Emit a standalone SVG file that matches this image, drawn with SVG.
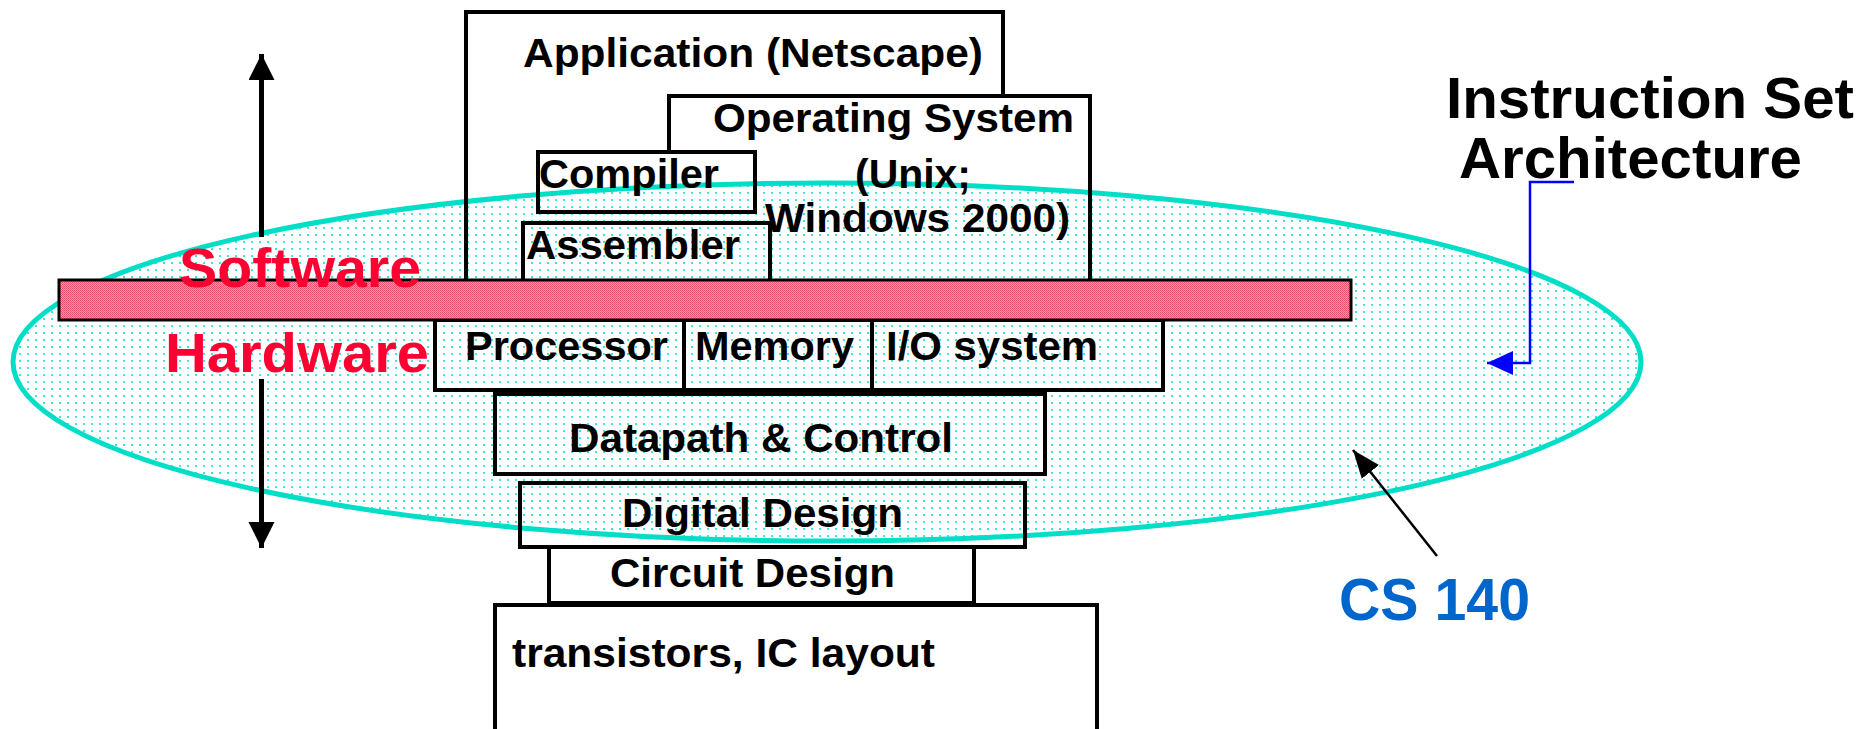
<svg xmlns="http://www.w3.org/2000/svg" width="1875" height="729" viewBox="0 0 1875 729">
  <defs>
    <pattern id="dots" x="0" y="0" width="8" height="7" patternUnits="userSpaceOnUse">
      <rect x="3" y="3" width="2" height="2" fill="#3FE3D8"/>
    </pattern>
    <pattern id="check" x="0" y="0" width="2" height="2" patternUnits="userSpaceOnUse">
      <rect width="2" height="2" fill="#FA98A8"/>
      <rect width="1" height="1" fill="#EC4A68"/>
      <rect x="1" y="1" width="1" height="1" fill="#EE5874"/>
    </pattern>
    <marker id="blk" markerUnits="userSpaceOnUse" markerWidth="30" markerHeight="30" refX="26" refY="13" orient="auto">
      <path d="M0,0 L26,13 L0,26 Z" fill="#000"/>
    </marker>
    <marker id="blk2" markerUnits="userSpaceOnUse" markerWidth="30" markerHeight="30" refX="28" refY="14" orient="auto">
      <path d="M0,3 L28,14 L0,25 Z" fill="#000"/>
    </marker>
    <marker id="blu" markerUnits="userSpaceOnUse" markerWidth="30" markerHeight="30" refX="26" refY="12" orient="auto">
      <path d="M0,0 L26,12 L0,24 Z" fill="#0000FF"/>
    </marker>
  </defs>
  <style>
    .box { fill: none; stroke: #000; stroke-width: 4; stroke-linejoin: miter; }
    .t { font-family: "Liberation Sans", Arial, sans-serif; font-weight: bold; font-size: 41px; fill: #000; }
    .big { font-size: 57px; }
    .red { fill: #FF0033; font-size: 56px; }
    .cs { fill: #0066CC; font-size: 60px; }
  </style>

  <g id="cs140-region">
    <ellipse cx="827" cy="362" rx="814" ry="179" fill="url(#dots)" stroke="#00DEC8" stroke-width="5"/>
  </g>

  <g id="application">
    <path class="box" d="M466,281 V12 H1003 V96"/>
    <text class="t" x="523" y="67" textLength="460" lengthAdjust="spacingAndGlyphs">Application (Netscape)</text>
  </g>
  <g id="operating-system">
    <path class="box" d="M669,152 V96 H1090 V281"/>
    <text class="t" x="713" y="132" textLength="361" lengthAdjust="spacingAndGlyphs">Operating System</text>
    <text class="t" x="855" y="188" textLength="116" lengthAdjust="spacingAndGlyphs">(Unix;</text>
    <text class="t" x="765" y="232" textLength="305" lengthAdjust="spacingAndGlyphs">Windows 2000)</text>
  </g>
  <g id="compiler">
    <rect class="box" x="538" y="152" width="217" height="60"/>
    <text class="t" x="539" y="188" textLength="180" lengthAdjust="spacingAndGlyphs">Compiler</text>
  </g>
  <g id="assembler">
    <path class="box" d="M523,281 V223 H770 V281"/>
    <text class="t" x="526" y="259" textLength="214" lengthAdjust="spacingAndGlyphs">Assembler</text>
  </g>

  <g id="processor">
    <rect class="box" x="435" y="320" width="249" height="70"/>
    <text class="t" x="465" y="360" textLength="203" lengthAdjust="spacingAndGlyphs">Processor</text>
  </g>
  <g id="memory">
    <rect class="box" x="684" y="320" width="188" height="70"/>
    <line class="box" x1="684" y1="388" x2="684" y2="396"/>
    <line class="box" x1="872" y1="388" x2="872" y2="396"/>
    <text class="t" x="695" y="360" textLength="159" lengthAdjust="spacingAndGlyphs">Memory</text>
  </g>
  <g id="io-system">
    <rect class="box" x="872" y="320" width="291" height="70"/>
    <text class="t" x="886" y="360" textLength="212" lengthAdjust="spacingAndGlyphs">I/O system</text>
  </g>
  <g id="datapath-control">
    <rect class="box" x="495" y="394" width="550" height="80"/>
    <text class="t" x="569" y="452" textLength="384" lengthAdjust="spacingAndGlyphs">Datapath &amp; Control</text>
  </g>
  <g id="digital-design">
    <rect class="box" x="520" y="483" width="505" height="64"/>
    <text class="t" x="622" y="527" textLength="281" lengthAdjust="spacingAndGlyphs">Digital Design</text>
  </g>
  <g id="circuit-design">
    <rect class="box" x="549" y="547" width="425" height="56"/>
    <text class="t" x="610" y="587" textLength="285" lengthAdjust="spacingAndGlyphs">Circuit Design</text>
  </g>
  <g id="transistors">
    <rect class="box" x="495" y="605" width="602" height="140"/>
    <text class="t" x="512" y="667" textLength="423" lengthAdjust="spacingAndGlyphs">transistors, IC layout</text>
  </g>

  <g id="isa-bar">
    <rect x="59" y="280" width="1292" height="40" fill="url(#check)" stroke="#000" stroke-width="3"/>
  </g>

  <g id="software-label">
    <text class="t red" x="179" y="287" textLength="242" lengthAdjust="spacingAndGlyphs">Software</text>
  </g>
  <g id="hardware-label">
    <text class="t red" x="165" y="372" textLength="264" lengthAdjust="spacingAndGlyphs">Hardware</text>
  </g>
  <g id="isa-label">
    <text class="t big" x="1446" y="118" textLength="408" lengthAdjust="spacingAndGlyphs">Instruction Set</text>
    <text class="t big" x="1459" y="178" textLength="343" lengthAdjust="spacingAndGlyphs">Architecture</text>
  </g>
  <g id="cs140-label">
    <text class="t cs" x="1339" y="620" textLength="191" lengthAdjust="spacingAndGlyphs">CS 140</text>
  </g>

  <g id="connectors">
    <line x1="261.5" y1="237" x2="261.5" y2="54" stroke="#000" stroke-width="5" marker-end="url(#blk)"/>
    <line x1="261.5" y1="379" x2="261.5" y2="548" stroke="#000" stroke-width="5" marker-end="url(#blk)"/>
    <path d="M1574,182 H1530 V363 H1487" fill="none" stroke="#0000FF" stroke-width="2.5" marker-end="url(#blu)"/>
    <line x1="1437" y1="556" x2="1353" y2="450" stroke="#000" stroke-width="2.5" marker-end="url(#blk2)"/>
  </g>
</svg>
